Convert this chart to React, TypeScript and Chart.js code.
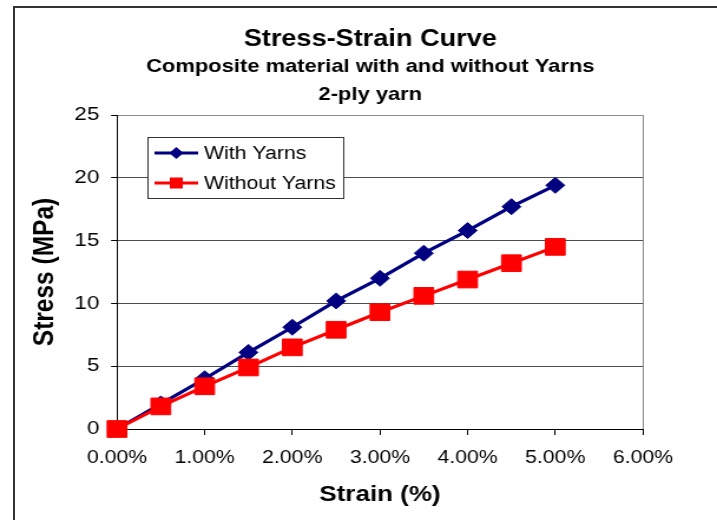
import React, { useEffect, useRef } from 'react';
import { Chart, registerables } from 'chart.js';

Chart.register(...registerables);

// ---- data ----
const strainPct = [0, 0.5, 1, 1.5, 2, 2.5, 3, 3.5, 4, 4.5, 5];
const withYarns = [0, 2.0, 4.0, 6.1, 8.1, 10.2, 12.0, 14.0, 15.8, 17.7, 19.4];
const withoutYarns = [0, 1.8, 3.4, 4.9, 6.5, 7.9, 9.3, 10.6, 11.9, 13.2, 14.5];
const seriesNames = ['With Yarns', 'Without Yarns'];
const titleLines = ['Stress-Strain Curve', 'Composite material with and without Yarns', '2-ply yarn'];
const xAxisTitle = 'Strain (%)';
const yAxisTitle = 'Stress (MPa)';
const xRange = [0, 6, 1];
const yRange = [0, 25, 5];

const FONT = '"Liberation Sans", Arial, sans-serif';
const CANVAS_W = 608; // drawn narrower, displayed stretched to 717px like the reference
const CANVAS_H = 520;

function drawMarker(ctx: CanvasRenderingContext2D, shape: string, x: number, y: number, r: number, color: string) {
  ctx.fillStyle = color;
  ctx.beginPath();
  if (shape === 'rectRot') {
    ctx.moveTo(x - r, y);
    ctx.lineTo(x, y - r);
    ctx.lineTo(x + r, y);
    ctx.lineTo(x, y + r);
    ctx.closePath();
  } else {
    ctx.rect(x - r, y - r, 2 * r, 2 * r);
  }
  ctx.fill();
}

const decorPlugin = {
  id: 'decor',
  afterDraw(chart: any) {
    const { ctx, chartArea } = chart;
    ctx.save();
    // titles
    ctx.fillStyle = '#000';
    ctx.textAlign = 'center';
    ctx.textBaseline = 'middle';
    const cx = 314;
    ctx.font = `bold 23px ${FONT}`;
    ctx.fillText(titleLines[0], cx, 40);
    ctx.font = `bold 18.6px ${FONT}`;
    ctx.fillText(titleLines[1], cx, 67);
    ctx.fillText(titleLines[2], cx, 95);

    // legend
    const lx = Math.round(chartArea.left + 26);
    const ly = Math.round(chartArea.top + 22);
    const lw = 166;
    const lh = 61;
    ctx.fillStyle = '#fff';
    ctx.fillRect(lx, ly, lw, lh);
    ctx.strokeStyle = '#333';
    ctx.lineWidth = 1;
    ctx.strokeRect(lx + 0.5, ly + 0.5, lw, lh);
    chart.data.datasets.forEach((ds: any, i: number) => {
      const y = ly + 16 + i * 30;
      ctx.strokeStyle = ds.borderColor;
      ctx.lineWidth = 3;
      ctx.beginPath();
      ctx.moveTo(lx + 6, y);
      ctx.lineTo(lx + 43, y);
      ctx.stroke();
      drawMarker(ctx, ds.pointStyle, lx + 24.5, y, ds.pointStyle === 'rectRot' ? 6 : 5.5, ds.backgroundColor);
      ctx.fillStyle = '#000';
      ctx.textAlign = 'left';
      ctx.font = `18px ${FONT}`;
      ctx.fillText(ds.label, lx + 48, y + 1);
    });
    ctx.restore();
  },
};

export default function App() {
  const ref = useRef<HTMLCanvasElement>(null);
  useEffect(() => {
    const canvas = ref.current;
    if (!canvas) return;
    const chart = new Chart(canvas, {
      type: 'line',
      data: {
        datasets: [
          {
            label: seriesNames[0],
            data: strainPct.map((x, i) => ({ x, y: withYarns[i] })),
            borderColor: '#000080',
            backgroundColor: '#000080',
            borderWidth: 3.2,
            pointStyle: 'rectRot',
            pointRadius: 8,
            pointBorderWidth: 1,
            pointBorderColor: '#000080',
            pointBackgroundColor: '#000080',
            tension: 0,
            clip: false as any,
            order: 1,
          },
          {
            label: seriesNames[1],
            data: strainPct.map((x, i) => ({ x, y: withoutYarns[i] })),
            borderColor: '#ff0000',
            backgroundColor: '#ff0000',
            borderWidth: 3.2,
            pointStyle: 'rect',
            pointRadius: 11.8,
            pointBorderWidth: 1,
            pointBorderColor: '#ff0000',
            pointBackgroundColor: '#ff0000',
            tension: 0,
            clip: false as any,
            order: 0,
          },
        ],
      },
      options: {
        animation: false,
        responsive: false,
        devicePixelRatio: 1,
        events: [],
        layout: { padding: { top: 115, left: 0, right: 62.8, bottom: 0 } },
        plugins: {
          legend: { display: false },
          title: { display: false },
          tooltip: { enabled: false },
        },
        scales: {
          x: {
            type: 'linear',
            min: xRange[0],
            max: xRange[1],
            afterFit: (s: any) => {
              s.height = 91;
            },
            ticks: {
              stepSize: xRange[2],
              maxRotation: 0,
              autoSkip: false,
              color: '#000',
              padding: 12,
              font: { family: FONT, size: 18 },
              callback: (v: any) => Number(v).toFixed(2) + '%',
            },
            grid: {
              color: (c: any) => (c.tick && c.tick.value === xRange[1] ? '#8c8c8c' : 'rgba(0,0,0,0)'),
              tickColor: '#000',
              tickLength: 6,
              lineWidth: 1,
            },
            border: { color: '#000', width: 1 },
            title: {
              display: true,
              text: xAxisTitle,
              color: '#000',
              font: { family: FONT, size: 22, weight: 'bold', lineHeight: 1 },
              padding: { top: 0, bottom: 14 },
            },
          },
          y: {
            type: 'linear',
            min: yRange[0],
            max: yRange[1],
            afterFit: (s: any) => {
              s.width = 99.2;
            },
            ticks: {
              stepSize: yRange[2],
              color: '#000',
              padding: 10,
              font: { family: FONT, size: 19 },
            },
            grid: {
              color: (c: any) =>
                c.tick && c.tick.value === yRange[0] ? '#000' : c.tick && c.tick.value === yRange[1] ? '#8c8c8c' : '#4d4d4d',
              tickColor: '#000',
              tickLength: 5,
              lineWidth: 1,
            },
            border: { color: '#000', width: 1 },
            title: {
              display: true,
              text: yAxisTitle,
              color: '#000',
              font: { family: FONT, size: 24.5, weight: 'bold', lineHeight: 1 },
              padding: { top: 26, bottom: 0 },
            },
          },
        },
      },
      plugins: [decorPlugin],
    });
    return () => chart.destroy();
  }, []);

  return (
    <div style={{ position: 'absolute', left: 0, top: 0, width: 717, height: 520, overflow: 'hidden', background: '#fff' }}>
      <div
        style={{
          position: 'absolute',
          left: 13,
          top: 6,
          width: 800,
          height: 600,
          borderLeft: '2px solid #333',
          borderTop: '2px solid #333',
        }}
      />
      <canvas
        ref={ref}
        width={CANVAS_W}
        height={CANVAS_H}
        style={{ position: 'absolute', left: 0, top: 0, width: '717px', height: '520px', display: 'block' }}
      />
    </div>
  );
}
